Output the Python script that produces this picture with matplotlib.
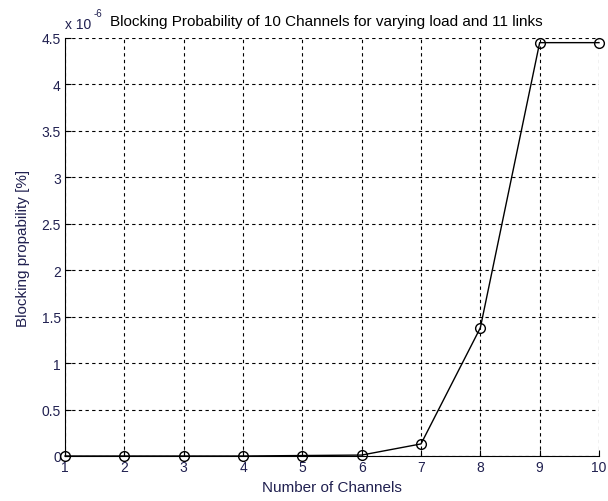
import matplotlib
matplotlib.use("Agg")
import matplotlib.pyplot as plt

plt.rcParams['font.family'] = ['Liberation Sans', 'DejaVu Sans']

channels = [1, 2, 3, 4, 5, 6, 7, 8, 9, 10]
blocking = [0.0, 0.0, 0.0, 0.0, 0.005, 0.01, 0.13, 1.38, 4.45, 4.45]  # x 1e-6
yticks = [0, 0.5, 1, 1.5, 2, 2.5, 3, 3.5, 4, 4.5]
ytick_labels = ["0", "0.5", "1", "1.5", "2", "2.5", "3", "3.5", "4", "4.5"]

label_color = "#202050"
fig = plt.figure(figsize=(6.08, 5.02), dpi=100)
ax = fig.add_axes([65/608, 45/502, 534/608, 418/502])
ax.plot(channels, blocking, color="black", lw=1.0, marker="o", ms=7,
        mfc="none", mec="black", mew=1.0, clip_on=False, zorder=3)
ax.set_xlim(1, 10)
ax.set_ylim(0, 4.5)
ax.set_xticks(channels)
ax.set_yticks(yticks)
ax.set_yticklabels(ytick_labels)
ax.grid(True, color="black", linestyle=(0, (3, 3)), lw=0.8)
for s in ["top", "right"]:
    ax.spines[s].set_visible(False)
ax.tick_params(direction="in", length=4, labelsize=10, labelcolor=label_color, pad=3)
ax.set_xlabel("Number of Channels", fontsize=11, color=label_color, labelpad=4)
ax.set_ylabel("Blocking propability [%]", fontsize=11, color=label_color, labelpad=8)
ax.set_title("Blocking Probability of 10 Channels for varying load and 11 links",
             fontsize=11, color="black", pad=9, x=0.49)
fig.text(65/608, 1 - 29/502, "x 10", fontsize=10, color=label_color)
fig.text(94/608, 1 - 17/502, "-6", fontsize=7, color=label_color)
fig.savefig("out.png", dpi=100)
